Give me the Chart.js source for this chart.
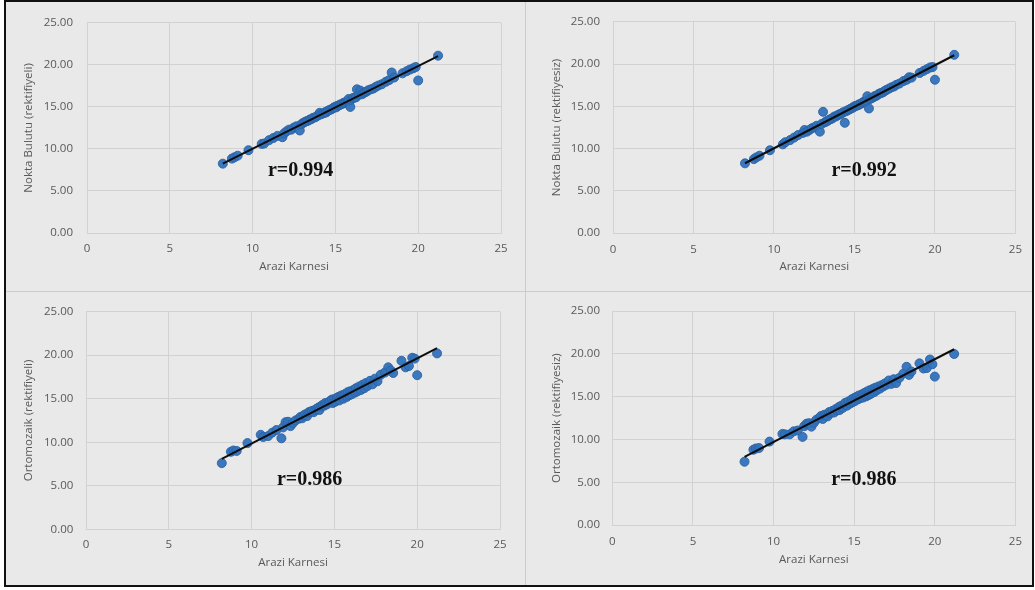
<!DOCTYPE html>
<html>
<head>
<meta charset="utf-8">
<title>Arazi Karnesi karşılaştırması</title>
<script src="https://cdn.jsdelivr.net/npm/chart.js@4.4.1/dist/chart.umd.min.js"></script>
<style>
  html, body { margin: 0; padding: 0; background: #ffffff; }
  #frame {
    position: absolute; left: 4px; top: 0; width: 1026px; height: 583px;
    border: 2px solid #111111; background: #e9e9e9;
  }
  .sep { position: absolute; background: #cbcbcb; }
  canvas { position: absolute; }
</style>
</head>
<body>
<div id="frame"></div>
<div class="sep" style="left:525px; top:2px; width:1px; height:583px;"></div>
<div class="sep" style="left:6px; top:291px; width:1026px; height:1px;"></div>
<canvas id="p1" width="518" height="288" style="left:6px; top:2px;"></canvas>
<canvas id="p2" width="505" height="288" style="left:527px; top:2px;"></canvas>
<canvas id="p3" width="518" height="293" style="left:6px; top:292px;"></canvas>
<canvas id="p4" width="505" height="293" style="left:527px; top:292px;"></canvas>
<script>
// Field-book heights (Arazi Karnesi), shared by all four comparisons
const araziKarnesi = [
  8.20, 8.75, 8.90, 9.10, 9.75, 10.55, 10.70, 11.00, 11.25, 11.50,
  11.80, 11.90, 12.05, 12.20, 12.35, 12.50, 12.65, 12.85, 12.95, 13.05,
  13.15, 13.25, 13.35, 13.45, 13.55, 13.65, 13.75, 13.85, 13.95, 14.05,
  14.10, 14.20, 14.30, 14.40, 14.45, 14.55, 14.65, 14.75, 14.85, 14.90,
  15.00, 15.05, 15.15, 15.25, 15.30, 15.40, 15.50, 15.55, 15.65, 15.75,
  15.80, 15.90, 15.95, 16.05, 16.15, 16.25, 16.30, 16.40, 16.50, 16.60,
  16.70, 16.80, 16.90, 17.00, 17.15, 17.30, 17.45, 17.60, 17.80, 18.05,
  18.25, 18.40, 18.55, 19.05, 19.30, 19.50, 19.70, 19.85, 20.00, 21.20
];

// Point cloud, rectified
const noktaBulutuRektifiyeli = [
  8.25, 8.85, 9.00, 9.20, 9.85, 10.60, 10.65, 11.05, 11.30, 11.55,
  11.40, 11.85, 12.10, 12.30, 12.30, 12.55, 12.70, 12.20, 12.95, 13.10,
  13.20, 13.30, 13.35, 13.50, 13.55, 13.70, 13.75, 13.85, 14.00, 14.30,
  14.10, 14.20, 14.25, 14.40, 14.35, 14.55, 14.65, 14.70, 14.85, 14.90,
  15.05, 14.95, 15.15, 15.20, 15.30, 15.35, 15.50, 15.45, 15.60, 15.70,
  15.95, 15.00, 15.85, 16.05, 16.10, 16.15, 17.10, 16.45, 16.95, 16.50,
  16.65, 16.75, 16.85, 17.00, 17.10, 17.20, 17.40, 17.55, 17.70, 18.00,
  18.20, 19.10, 18.50, 19.00, 19.25, 19.45, 19.60, 19.75, 18.15, 21.10
];

// Point cloud, unrectified
const noktaBulutuRektifiyesiz = [
  8.25, 8.75, 8.95, 9.15, 9.80, 10.50, 10.75, 11.00, 11.30, 11.60,
  11.85, 12.20, 12.00, 12.20, 12.40, 12.50, 12.70, 12.00, 12.90, 14.35,
  13.10, 13.20, 13.30, 13.45, 13.50, 13.60, 13.80, 13.80, 13.95, 14.00,
  14.10, 14.15, 14.30, 13.05, 14.40, 14.50, 14.60, 14.70, 14.80, 14.85,
  15.00, 15.00, 15.10, 15.15, 15.25, 15.30, 15.45, 15.50, 15.55, 15.65,
  16.20, 14.75, 15.85, 15.95, 16.05, 16.20, 16.20, 16.30, 16.45, 16.55,
  16.60, 16.70, 16.85, 16.95, 17.10, 17.25, 17.35, 17.55, 17.70, 18.00,
  18.15, 18.45, 18.40, 18.95, 19.20, 19.40, 19.60, 19.65, 18.15, 21.10
];

// Orthomosaic, rectified
const ortomozaikRektifiyeli = [
  7.60, 8.90, 9.05, 9.00, 9.90, 10.85, 10.60, 10.70, 11.10, 11.40,
  10.45, 11.70, 12.30, 12.35, 11.85, 12.20, 12.50, 12.70, 12.90, 12.75,
  13.10, 13.20, 13.00, 13.45, 13.50, 13.60, 13.45, 13.75, 13.85, 14.00,
  13.70, 14.15, 14.30, 14.20, 14.50, 14.35, 14.60, 14.75, 14.90, 14.50,
  14.95, 14.65, 15.10, 15.20, 14.80, 15.35, 15.40, 15.00, 15.55, 15.20,
  15.75, 15.40, 15.85, 15.50, 16.00, 15.70, 16.20, 15.85, 16.40, 16.00,
  16.60, 16.20, 16.80, 16.45, 17.05, 16.65, 17.30, 17.00, 17.75, 18.00,
  18.60, 18.25, 17.95, 19.35, 18.60, 18.75, 19.70, 19.60, 17.70, 20.20
];

// Orthomosaic, unrectified
const ortomozaikRektifiyesiz = [
  7.40, 8.80, 8.95, 9.00, 9.75, 10.65, 10.60, 10.60, 10.95, 11.05,
  10.30, 11.55, 11.85, 11.90, 11.50, 11.95, 12.30, 12.55, 12.75, 12.40,
  12.90, 12.85, 12.70, 13.20, 13.10, 13.35, 13.15, 13.55, 13.40, 13.80,
  13.45, 13.95, 13.70, 14.10, 14.30, 13.95, 14.45, 14.20, 14.70, 14.35,
  14.85, 14.50, 15.00, 14.70, 15.15, 14.85, 15.30, 14.90, 15.45, 15.05,
  15.60, 15.20, 15.75, 15.35, 15.90, 15.55, 16.05, 15.75, 16.20, 15.95,
  16.35, 16.20, 16.55, 16.40, 16.90, 16.50, 17.05, 16.60, 17.20, 17.70,
  18.50, 17.55, 17.95, 18.90, 18.30, 18.35, 19.35, 18.80, 17.35, 20.00
];

// Linear trend line end points
const trendX = [8.2, 21.2];
const trendNoktaRektifiyeli = [8.26, 21.05];
const trendNoktaRektifiyesiz = [8.26, 21.05];
const trendOrtoRektifiyeli = [8.10, 20.80];
const trendOrtoRektifiyesiz = [7.97, 20.55];

// Axis ticks
const xTicks = [0, 5, 10, 15, 20, 25];
const yTicks = [0, 5, 10, 15, 20, 25];

// Titles and correlation coefficients
const xTitle = 'Arazi Karnesi';
const yTitles = ['Nokta Bulutu (rektifiyeli)', 'Nokta Bulutu (rektifiyesiz)',
                 'Ortomozaik (rektifiyeli)', 'Ortomozaik (rektifiyesiz)'];
const rLabels = ['r=0.994', 'r=0.992', 'r=0.986', 'r=0.986'];

const FONT = '"Open Sans", "Noto Sans", sans-serif';
const TEXT = '#595959';
const GRID = '#d2d2d2';

function zip(xs, ys) {
  return xs.map((x, i) => ({ x: x, y: ys[i] }));
}

// Correlation text placed in data space of each panel
const rTextPlugin = {
  id: 'rText',
  afterDatasetsDraw(chart, args, opts) {
    const { ctx, scales } = chart;
    ctx.save();
    ctx.font = 'bold 20px "Liberation Serif", "Times New Roman", serif';
    ctx.fillStyle = '#111111';
    ctx.textAlign = 'center';
    ctx.textBaseline = 'middle';
    ctx.fillText(opts.text, scales.x.getPixelForValue(opts.x), scales.y.getPixelForValue(opts.y));
    ctx.restore();
  }
};

function makePanel(id, ys, trendY, yTitle, rText, rAt, g) {
  new Chart(document.getElementById(id), {
    type: 'scatter',
    data: {
      datasets: [
        {
          data: zip(trendX, trendY),
          showLine: true,
          borderColor: '#0d0d0d',
          borderWidth: 2,
          pointRadius: 0,
          order: 0
        },
        {
          data: zip(araziKarnesi, ys),
          pointRadius: 4.5,
          pointBackgroundColor: 'rgba(50,114,188,0.95)',
          pointBorderColor: 'rgba(42,98,164,0.9)',
          pointBorderWidth: 1,
          order: 1
        }
      ]
    },
    options: {
      responsive: false,
      animation: false,
      events: [],
      layout: { padding: { top: g.padTop, right: g.padRight, left: 0, bottom: 0 } },
      plugins: {
        legend: { display: false },
        tooltip: { enabled: false },
        rText: { text: rText, x: rAt[0], y: rAt[1] }
      },
      scales: {
        x: {
          type: 'linear',
          min: xTicks[0],
          max: xTicks[xTicks.length - 1],
          afterBuildTicks: s => { s.ticks = xTicks.map(v => ({ value: v })); },
          afterFit: s => { s.height = g.xHeight; },
          ticks: { padding: g.xTickPad, color: TEXT, font: { family: FONT, size: 11.5 }, maxRotation: 0 },
          grid: { color: GRID, drawTicks: false },
          border: { color: GRID },
          title: {
            display: true, text: xTitle, color: TEXT,
            font: { family: FONT, size: 11.5 },
            padding: { top: 0, bottom: g.xTitlePad }
          }
        },
        y: {
          type: 'linear',
          min: yTicks[0],
          max: yTicks[yTicks.length - 1],
          afterBuildTicks: s => { s.ticks = yTicks.map(v => ({ value: v })); },
          afterFit: s => { s.width = g.yWidth; },
          ticks: {
            padding: g.yTickPad, color: TEXT, font: { family: FONT, size: 11.5 },
            callback: v => Number(v).toFixed(2)
          },
          grid: { color: GRID, drawTicks: false },
          border: { color: GRID },
          title: {
            display: true, text: yTitle, color: TEXT,
            font: { family: FONT, size: 11.5 },
            padding: { top: g.yTitlePad, bottom: 0 }
          }
        }
      }
    },
    plugins: [rTextPlugin]
  });
}

makePanel('p1', noktaBulutuRektifiyeli, trendNoktaRektifiyeli, yTitles[0], rLabels[0], [12.9, 7.4],
  { padTop: 8, padRight: 23, yWidth: 81, xHeight: 57, yTickPad: 14, yTitlePad: 16, xTickPad: 9, xTitlePad: 16 });
makePanel('p2', noktaBulutuRektifiyesiz, trendNoktaRektifiyesiz, yTitles[1], rLabels[1], [15.6, 7.4],
  { padTop: 7.5, padRight: 7, yWidth: 86, xHeight: 57, yTickPad: 13, yTitlePad: 23, xTickPad: 10, xTitlePad: 16.5 });
makePanel('p3', ortomozaikRektifiyeli, trendOrtoRektifiyeli, yTitles[2], rLabels[2], [13.5, 5.7],
  { padTop: 15.7, padRight: 24, yWidth: 80, xHeight: 55.7, yTickPad: 12.7, yTitlePad: 16, xTickPad: 9, xTitlePad: 15 });
makePanel('p4', ortomozaikRektifiyesiz, trendOrtoRektifiyesiz, yTitles[3], rLabels[3], [15.6, 5.3],
  { padTop: 11.3, padRight: 7, yWidth: 85.3, xHeight: 60, yTickPad: 12.3, yTitlePad: 23, xTickPad: 10, xTitlePad: 18.4 });
</script>
</body>
</html>
